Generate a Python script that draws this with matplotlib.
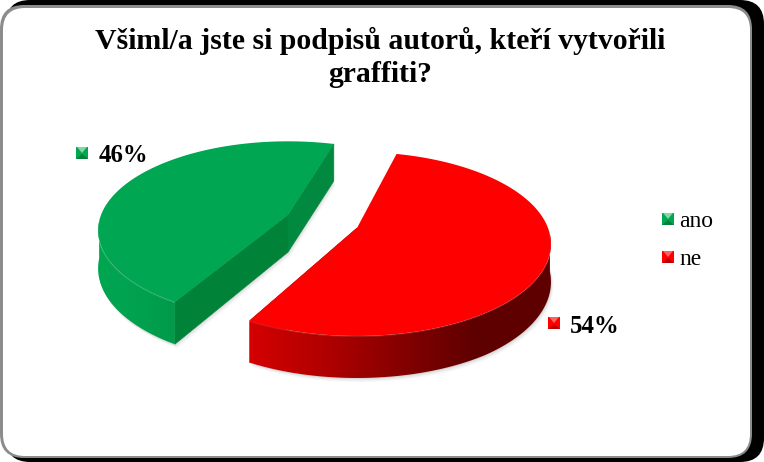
import numpy as np
import matplotlib
matplotlib.use("Agg")
import matplotlib.pyplot as plt
from matplotlib.patches import FancyBboxPatch, Polygon

# Data
categories = ["ano", "ne"]
values = [46, 54]
colors = ["#00A651", "#FF0000"]
title_lines = ["Všiml/a jste si podpisů autorů, kteří vytvořili", "graffiti?"]

plt.rcParams["font.family"] = ["Liberation Serif", "DejaVu Serif"]

fig = plt.figure(figsize=(7.64, 4.62), dpi=100)
ax = fig.add_axes([0, 0, 1, 1])
ax.set_xlim(0, 764)
ax.set_ylim(462, 0)
ax.axis("off")

# Frame
ax.add_patch(FancyBboxPatch((6, 0), 758, 462, boxstyle="round,pad=0,rounding_size=24", fc="black", ec="none"))
ax.add_patch(FancyBboxPatch((0, 5), 752, 453, boxstyle="round,pad=0,rounding_size=24", fc="#8c8c8c", ec="none"))
ax.add_patch(FancyBboxPatch((3, 8), 747, 448, boxstyle="round,pad=0,rounding_size=22", fc="white", ec="none"))


def project(cx, cy, t, sx, sy):
    # t is clockwise from the top, perspective makes the near side bigger
    u, v = np.sin(t), -np.cos(t)
    w = 1 - 0.174 * v
    return cx + sx * u / w, cy + sy * v / w


def wall_depth(y, cy):
    return 37 + 5 * np.clip((y - cy) / 85, 0, 1)


def shaded(poly, stops, zorder):
    # horizontal gradient clipped to a polygon
    xs = poly[:, 0]
    grad = np.array([matplotlib.colors.to_rgb(c) for c in stops])
    pos = np.linspace(0, 1, len(stops))
    line = np.linspace(0, 1, 256)
    img = np.stack([np.interp(line, pos, grad[:, i]) for i in range(3)], axis=-1)[None, :, :]
    im = ax.imshow(img, extent=(xs.min(), xs.max(), poly[:, 1].max(), poly[:, 1].min()),
                   aspect="auto", zorder=zorder)
    clip = Polygon(poly, closed=True, transform=ax.transData, fc="none", ec="none")
    ax.add_patch(clip)
    im.set_clip_path(clip)


def draw_slice(cx, cy, a0, a1, color, sx, sy, wall, cuts):
    t = np.radians(np.linspace(a0, a1, 200))
    px, py = project(cx, cy, t, sx, sy)
    top = np.column_stack([np.r_[cx, px], np.r_[cy, py]])
    low = top + np.column_stack([np.zeros(len(top)), wall_depth(top[:, 1], cy)])

    # soft shadow under the slice
    for k, al in ((4, 0.05), (2.5, 0.08), (1, 0.12)):
        ax.add_patch(Polygon(low + np.array([k * 0.6, k]), closed=True, fc="#505050", ec="none", alpha=al, zorder=2))

    # cut faces
    for a, c in cuts:
        x, y = project(cx, cy, np.radians(a), sx, sy)
        q = np.array([[cx, cy], [x, y], [x, y + wall_depth(y, cy)], [cx, cy + 37]])
        ax.add_patch(Polygon(q, closed=True, fc=c, ec=c, lw=0.5, zorder=3))

    # outer wall, front part of the arc only
    front = py > cy + 5
    arc = np.column_stack([px[front], py[front]])
    arc_low = arc + np.column_stack([np.zeros(len(arc)), wall_depth(arc[:, 1], cy)])
    shaded(np.vstack([arc, arc_low[::-1]]), wall, 4)

    ax.add_patch(Polygon(top, closed=True, fc=color, ec="none", zorder=5))
    ax.plot(arc[:, 0], arc[:, 1] + 0.5, color="white", alpha=0.1, lw=1, zorder=6)


# Slices, angles come from the values
start = 14
shares = np.array(values) / sum(values) * 360
red_end = start + shares[1]
green_start = red_end + 2.6
green_end = green_start + shares[0]

draw_slice(288, 215, green_start, green_end, colors[0], 187, 86.5, ["#00A651", "#00A24F", "#009A4A"],
           [(green_start, "#008238"), (green_end, "#00893F")])
draw_slice(357, 228, start, red_end, colors[1], 191, 89.2, ["#D40000", "#B00000", "#850000", "#5E0000", "#600000"],
           [(red_end, "#C00000")])


def marker(x, y, color, light, dark):
    s = 12
    m = s / 2
    ax.add_patch(Polygon([[x, y], [x + s, y], [x + s, y + s], [x, y + s]], closed=True, fc=color, ec="none", zorder=7))
    ax.add_patch(Polygon([[x + 1, y], [x + s - 1, y], [x + m, y + m]], closed=True, fc=light, ec="none", zorder=8))
    ax.add_patch(Polygon([[x, y + s], [x + s, y + s], [x + m, y + m + 1]], closed=True, fc=dark, ec="none", zorder=8))


for line, base in zip(title_lines, [49, 82]):
    ax.text(380.5, base, line, ha="center", va="baseline", fontsize=21.4, fontweight="bold")

shade_light = ["#7FD8A0", "#FF6060"]
shade_dark = ["#008238", "#C00000"]

# Data labels
marker(76, 147, colors[0], shade_light[0], shade_dark[0])
ax.text(99, 162, f"{values[0]}%", va="baseline", fontsize=17.8, fontweight="bold")
marker(548, 317, colors[1], shade_light[1], shade_dark[1])
ax.text(570, 333, f"{values[1]}%", va="baseline", fontsize=17.8, fontweight="bold")

# Legend
legend_marker_y = [213, 251]
legend_base = [227, 265]
for i, name in enumerate(categories):
    marker(662, legend_marker_y[i], colors[i], shade_light[i], shade_dark[i])
    ax.text(679, legend_base[i], name, va="baseline", fontsize=17)

ax.set_xlim(0, 764)
ax.set_ylim(462, 0)
fig.savefig("out.png", dpi=100)
